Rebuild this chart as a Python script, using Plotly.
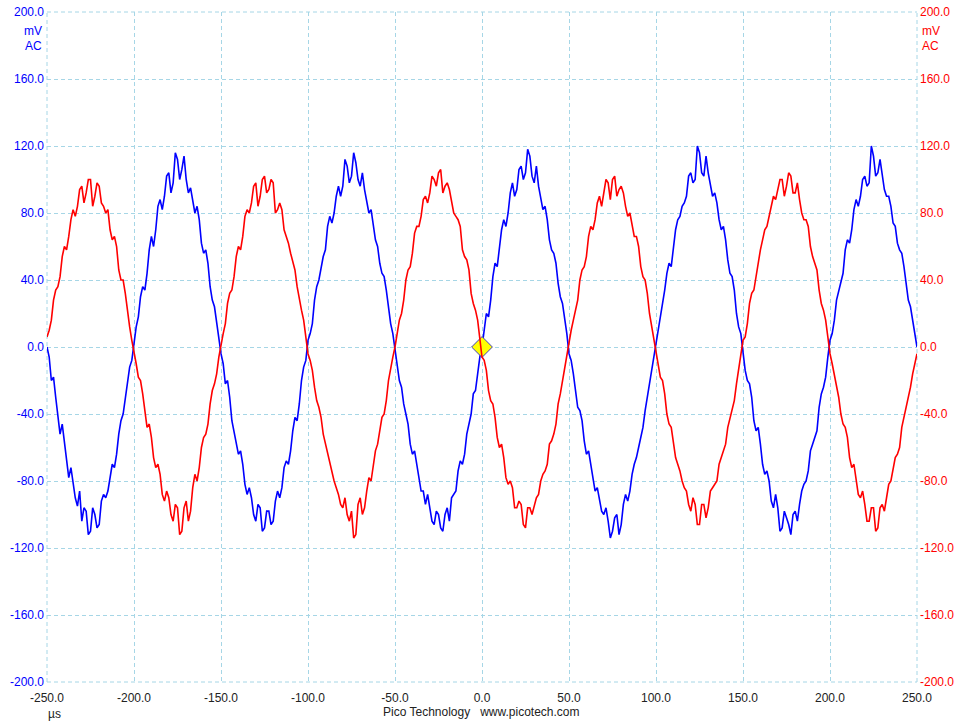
import plotly.graph_objects as go

# Sample times (µs), one sample every 1.25 µs from -250 to 250
time_us = [-250 + 1.25 * i for i in range(401)]

# Channel A (blue), mV
channel_a_mv = [
    0, -6, -20, -18, -30, -42, -52, -46, -58, -70, -78, -72, -80, -90, -95, -86, -104, -96, -98, -112,
    -110, -96, -100, -108, -106, -92, -88, -90, -86, -78, -70, -72, -64, -52, -44, -40, -30, -20, -12, -8,
    2, 12, 18, 30, 36, 34, 44, 58, 66, 60, 70, 84, 88, 82, 90, 102, 104, 92, 98, 116,
    112, 100, 106, 114, 100, 92, 95, 88, 80, 84, 76, 62, 56, 58, 50, 36, 28, 24, 14, 4,
    -4, -10, -22, -20, -30, -44, -50, -56, -64, -62, -70, -82, -88, -84, -90, -100, -104, -94, -96, -110,
    -108, -98, -98, -106, -104, -92, -86, -90, -84, -72, -68, -70, -62, -50, -42, -44, -34, -20, -12, -8,
    4, 8, 14, 28, 36, 40, 48, 54, 58, 72, 78, 74, 80, 90, 96, 90, 96, 112, 108, 98,
    102, 116, 110, 100, 96, 104, 94, 86, 80, 82, 74, 64, 60, 50, 44, 42, 34, 22, 14, 8,
    -2, -12, -20, -24, -34, -40, -46, -58, -64, -62, -70, -80, -86, -86, -94, -88, -96, -104, -106, -98,
    -100, -108, -110, -100, -96, -104, -90, -88, -86, -74, -68, -70, -64, -52, -46, -40, -28, -26, -16, -6,
    0, 10, 20, 18, 28, 42, 50, 48, 58, 70, 76, 72, 80, 92, 98, 90, 94, 106, 108, 100,
    104, 118, 114, 102, 98, 108, 96, 88, 82, 84, 76, 64, 58, 56, 50, 38, 30, 26, 18, 8,
    -4, -8, -16, -28, -36, -38, -44, -56, -64, -62, -70, -80, -86, -84, -92, -98, -100, -96, -104, -114,
    -110, -102, -100, -112, -106, -94, -88, -92, -86, -76, -70, -66, -60, -54, -48, -38, -30, -24, -16, -6,
    2, 10, 18, 24, 34, 44, 50, 48, 58, 70, 76, 78, 84, 86, 90, 102, 104, 98, 100, 120,
    116, 104, 102, 114, 104, 96, 90, 92, 86, 76, 70, 72, 64, 52, 44, 42, 34, 20, 12, 8,
    -2, -14, -20, -22, -30, -44, -50, -48, -58, -70, -76, -74, -80, -92, -96, -88, -96, -110, -108, -98,
    -102, -106, -112, -100, -98, -104, -94, -86, -82, -80, -74, -62, -58, -54, -50, -36, -28, -24, -18, -6,
    4, 8, 16, 28, 34, 38, 44, 58, 64, 62, 70, 82, 88, 84, 90, 100, 102, 96, 98, 120,
    114, 102, 104, 112, 102, 94, 90, 90, 84, 74, 72, 62, 58, 56, 48, 36, 28, 24, 16, 8,
    0,
]

# Channel B (red), mV
channel_b_mv = [
    6, 10, 16, 28, 34, 36, 42, 54, 60, 58, 66, 76, 82, 78, 84, 94, 96, 86, 92, 100,
    100, 84, 90, 98, 96, 86, 84, 80, 82, 70, 64, 66, 60, 46, 40, 40, 32, 20, 12, 4,
    -2, -10, -18, -20, -28, -40, -48, -46, -54, -66, -72, -70, -76, -88, -92, -86, -90, -100, -104, -94,
    -96, -112, -110, -96, -92, -104, -98, -84, -76, -80, -72, -60, -54, -52, -46, -34, -26, -22, -16, -6,
    2, 8, 14, 26, 32, 34, 42, 54, 60, 58, 66, 78, 82, 80, 86, 96, 98, 84, 90, 100,
    102, 92, 94, 100, 98, 80, 82, 86, 82, 70, 66, 62, 56, 50, 46, 36, 28, 22, 16, 6,
    -4, -8, -14, -24, -32, -36, -42, -52, -58, -62, -68, -74, -80, -84, -88, -94, -96, -90, -100, -104,
    -98, -114, -112, -94, -90, -100, -96, -86, -78, -80, -70, -62, -58, -50, -42, -40, -32, -20, -12, -6,
    0, 8, 16, 20, 28, 40, 46, 48, 56, 68, 72, 72, 78, 88, 90, 86, 92, 102, 100, 96,
    104, 106, 92, 96, 98, 94, 86, 80, 78, 76, 72, 58, 54, 52, 46, 32, 26, 22, 16, 6,
    -6, -8, -14, -26, -32, -34, -42, -54, -60, -58, -66, -78, -82, -80, -84, -96, -96, -92, -94, -106,
    -108, -96, -96, -100, -94, -90, -88, -80, -76, -74, -70, -58, -56, -52, -46, -34, -28, -20, -14, -4,
    2, 10, 16, 22, 28, 40, 46, 48, 54, 66, 72, 70, 76, 86, 90, 84, 92, 100, 98, 88,
    100, 102, 90, 94, 96, 92, 84, 78, 80, 72, 66, 66, 60, 48, 42, 40, 32, 20, 12, 4,
    -2, -12, -18, -20, -28, -40, -46, -48, -56, -66, -70, -74, -80, -84, -86, -94, -98, -90, -94, -106,
    -106, -94, -94, -102, -96, -86, -84, -82, -80, -70, -66, -62, -58, -48, -42, -38, -32, -22, -14, -6,
    4, 6, 14, 26, 32, 34, 42, 52, 58, 64, 70, 72, 78, 86, 90, 88, 94, 100, 100, 90,
    96, 104, 102, 92, 92, 98, 88, 80, 76, 76, 72, 60, 54, 50, 46, 34, 26, 22, 16, 6,
    -4, -10, -16, -22, -30, -40, -46, -48, -54, -66, -72, -70, -78, -88, -90, -86, -94, -104, -104, -96,
    -96, -110, -108, -96, -94, -98, -90, -82, -80, -74, -66, -64, -60, -48, -42, -38, -30, -24, -16, -10,
    -4,
]

x_ticks = [-250, -200, -150, -100, -50, 0, 50, 100, 150, 200, 250]
x_tick_text = ["-250.0", "-200.0", "-150.0", "-100.0", "-50.0", "0.0", "50.0", "100.0", "150.0", "200.0", "250.0"]
y_ticks = [-200, -160, -120, -80, -40, 0, 40, 80, 120, 160, 200]
y_tick_text = ["-200.0", "-160.0", "-120.0", "-80.0", "-40.0", "0.0", "40.0", "80.0", "120.0", "160.0", "200.0"]

trigger_x = [0]
trigger_y = [0]

BLUE = "#0000ff"
RED = "#ff0000"
GRID = "#a6d6e6"
FONT = "Liberation Sans, Arial, sans-serif"

fig = go.Figure()
fig.add_trace(go.Scatter(x=time_us, y=channel_b_mv, mode="lines",
                         line=dict(color=RED, width=1.6), yaxis="y2", hoverinfo="skip"))
fig.add_trace(go.Scatter(x=time_us, y=channel_a_mv, mode="lines",
                         line=dict(color=BLUE, width=1.6), hoverinfo="skip"))
fig.add_trace(go.Scatter(x=trigger_x, y=trigger_y, mode="markers",
                         marker=dict(symbol="diamond", size=16, color="#ffff00",
                                     line=dict(color="#4040c0", width=1)), hoverinfo="skip"))

fig.update_layout(
    width=958, height=722,
    margin=dict(l=47, r=41, t=12, b=40, autoexpand=False),
    paper_bgcolor="white", plot_bgcolor="white",
    showlegend=False,
    font=dict(family=FONT, size=12, color="#222222"),
    xaxis=dict(range=[-250, 250], tickvals=x_ticks, ticktext=x_tick_text,
               showgrid=True, gridcolor=GRID, griddash="4px,3px", gridwidth=1,
               zeroline=False, showline=False, ticks="", automargin=False,
               ticklabelstandoff=7, ticklabeloverflow="allow",
               tickfont=dict(color="#222222", size=12)),
    yaxis=dict(range=[-200, 200], tickvals=y_ticks, ticktext=y_tick_text,
               showgrid=True, gridcolor=GRID, griddash="4px,3px", gridwidth=1,
               zeroline=False, showline=False, ticks="", automargin=False,
               ticklabelstandoff=2, ticklabeloverflow="allow",
               tickfont=dict(color=BLUE, size=12)),
    yaxis2=dict(range=[-200, 200], tickvals=y_ticks, ticktext=y_tick_text,
                overlaying="y", side="right", showgrid=False,
                zeroline=False, showline=False, ticks="", automargin=False,
                ticklabelstandoff=2, ticklabeloverflow="allow",
                tickfont=dict(color=RED, size=12)),
)

# Plot frame drawn as dashed grid-style lines at the range edges
for x0, y0, x1, y1 in [(0, 0, 1, 0), (0, 1, 1, 1), (0, 0, 0, 1), (1, 0, 1, 1)]:
    fig.add_shape(type="line", xref="paper", yref="paper", x0=x0, y0=y0, x1=x1, y1=y1,
                  line=dict(color=GRID, width=1, dash="4px,3px"), layer="below")

ann = [
    dict(text="mV", x=0, y=0.9716, xanchor="right", xshift=-3, font=dict(color=BLUE)),
    dict(text="AC", x=0, y=0.9493, xanchor="right", xshift=-3, font=dict(color=BLUE)),
    dict(text="mV", x=1, y=0.9716, xanchor="left", xshift=3, font=dict(color=RED)),
    dict(text="AC", x=1, y=0.9493, xanchor="left", xshift=3, font=dict(color=RED)),
    dict(text="µs", x=0.009, y=-0.0478, xanchor="center", font=dict(color="#222222")),
    dict(text="Pico Technology   www.picotech.com", x=0.4989, y=-0.0448, xanchor="center",
         font=dict(color="#222222")),
]
for a in ann:
    fig.add_annotation(xref="paper", yref="paper", showarrow=False, yanchor="middle", **a)

# Remove the default page margin so the figure fills the window exactly.
fig.write_html("out.html",
               config={"displayModeBar": False},
               post_script="document.body.style.margin='0';document.body.style.padding='0';")
